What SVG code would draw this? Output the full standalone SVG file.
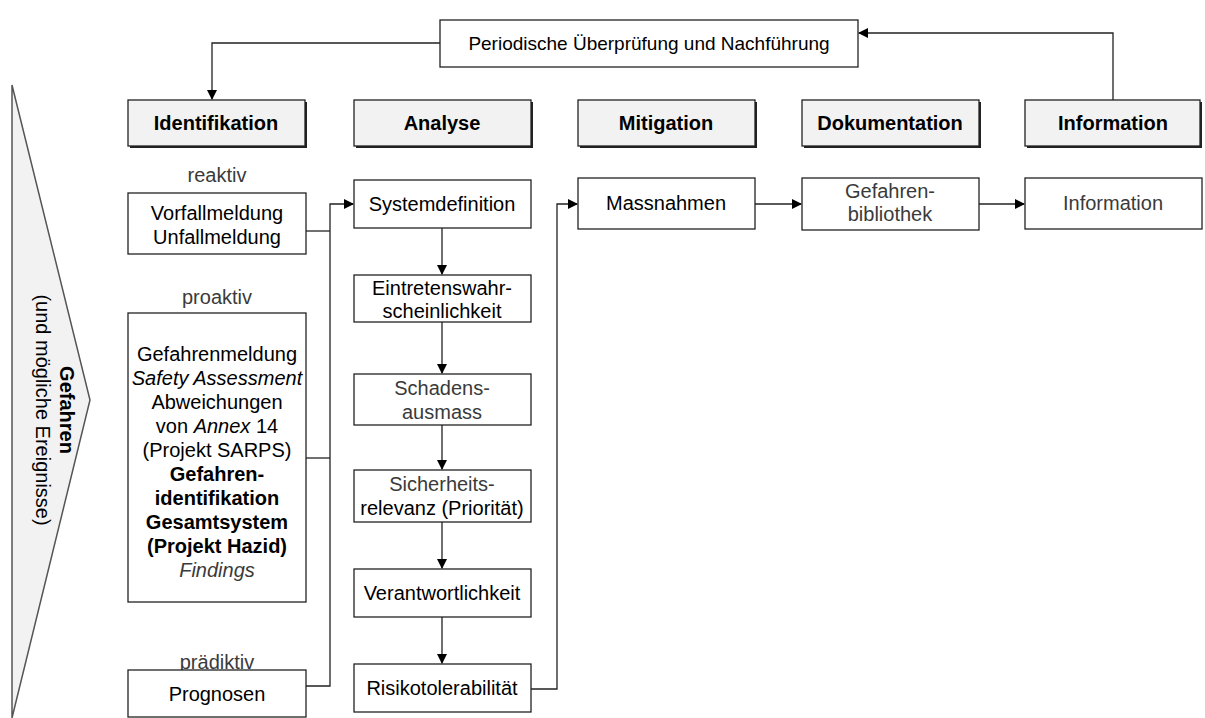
<svg xmlns="http://www.w3.org/2000/svg" width="1205" height="718" viewBox="0 0 1205 718">
<style>
text{font-family:"Liberation Sans",Arial,sans-serif;font-size:20px;fill:#000;text-anchor:middle}
.g{fill:#3a3a3a}
.b{font-weight:bold}
.i{font-style:italic}
.box{fill:#fff;stroke:#222;stroke-width:1.3}
.hdr{fill:#f2f2f2;stroke:#222;stroke-width:1.3}
.sh{fill:#222}
.ln{fill:none;stroke:#222;stroke-width:1.3}
</style>
<defs>
<marker id="ah" markerWidth="10" markerHeight="10" refX="9" refY="5" orient="auto" markerUnits="userSpaceOnUse">
<path d="M0,0 L10,5 L0,10 z" fill="#000"/>
</marker>
</defs>

<g id="triangle">
<path d="M12,85 L90,400 L12,718 Z" fill="#f2f2f2" stroke="#555" stroke-width="1.5"/>
<text transform="translate(52,410) rotate(90)"><tspan class="b" x="0" y="-8">Gefahren</tspan><tspan x="0" y="16">(und mögliche Ereignisse)</tspan></text>
</g>

<g id="top">
<rect class="box" x="440" y="20" width="418" height="47"/>
<text x="649" y="50" style="font-size:19px">Periodische Überprüfung und Nachführung</text>
</g>

<g id="h-identifikation">
<rect class="sh" x="130" y="102" width="177" height="46"/>
<rect class="hdr" x="128" y="100" width="177" height="46"/>
<text class="b" x="216" y="130">Identifikation</text>
</g>
<g id="h-analyse">
<rect class="sh" x="356" y="102" width="177" height="46"/>
<rect class="hdr" x="354" y="100" width="177" height="46"/>
<text class="b" x="442" y="130">Analyse</text>
</g>
<g id="h-mitigation">
<rect class="sh" x="580" y="102" width="177" height="46"/>
<rect class="hdr" x="578" y="100" width="177" height="46"/>
<text class="b" x="666" y="130">Mitigation</text>
</g>
<g id="h-dokumentation">
<rect class="sh" x="804" y="102" width="177" height="46"/>
<rect class="hdr" x="802" y="100" width="177" height="46"/>
<text class="b" x="890" y="130">Dokumentation</text>
</g>
<g id="h-information">
<rect class="sh" x="1027" y="102" width="175" height="46"/>
<rect class="hdr" x="1025" y="100" width="175" height="46"/>
<text class="b" x="1113" y="130">Information</text>
</g>

<g id="labels">
<text class="g" x="217" y="182">reaktiv</text>
<text class="g" x="217" y="304">proaktiv</text>
<text class="g" x="217" y="669">prädiktiv</text>
</g>

<g id="n-vorfall">
<rect class="box" x="128" y="193" width="178" height="61"/>
<text x="217" y="220">Vorfallmeldung</text>
<text x="217" y="244">Unfallmeldung</text>
</g>
<g id="n-proaktiv">
<rect class="box" x="128" y="313" width="178" height="289"/>
<text x="217" y="361">Gefahrenmeldung</text>
<text class="i" x="217" y="385">Safety Assessment</text>
<text x="217" y="409">Abweichungen</text>
<text x="217" y="433">von <tspan class="i">Annex</tspan> 14</text>
<text x="217" y="457">(Projekt SARPS)</text>
<text class="b" x="217" y="481">Gefahren-</text>
<text class="b" x="217" y="505">identifikation</text>
<text class="b" x="217" y="529">Gesamtsystem</text>
<text class="b" x="217" y="553">(Projekt Hazid)</text>
<text class="i g" x="217" y="577">Findings</text>
</g>
<g id="n-prognosen">
<rect class="box" x="128" y="670" width="178" height="47"/>
<text x="217" y="701">Prognosen</text>
</g>

<g id="n-systemdef">
<rect class="box" x="354" y="180" width="177" height="48"/>
<text x="442" y="211">Systemdefinition</text>
</g>
<g id="n-eintreten">
<rect class="box" x="354" y="275" width="177" height="47"/>
<text x="442" y="295">Eintretenswahr-</text>
<text x="442" y="318">scheinlichkeit</text>
</g>
<g id="n-schaden">
<rect class="box" x="354" y="374" width="177" height="51"/>
<text class="g" x="442" y="395">Schadens-</text>
<text class="g" x="442" y="419">ausmass</text>
</g>
<g id="n-sicherheit">
<rect class="box" x="354" y="470" width="177" height="52"/>
<text class="g" x="442" y="491">Sicherheits-</text>
<text x="442" y="515">relevanz (Priorität)</text>
</g>
<g id="n-verantwortlich">
<rect class="box" x="354" y="569" width="177" height="48"/>
<text x="442" y="600">Verantwortlichkeit</text>
</g>
<g id="n-risiko">
<rect class="box" x="354" y="664" width="177" height="48"/>
<text x="442" y="695">Risikotolerabilität</text>
</g>

<g id="n-massnahmen">
<rect class="box" x="578" y="178" width="177" height="51"/>
<text x="666" y="210">Massnahmen</text>
</g>
<g id="n-bibliothek">
<rect class="box" x="802" y="178" width="177" height="52"/>
<text class="g" x="890" y="198">Gefahren-</text>
<text class="g" x="890" y="221">bibliothek</text>
</g>
<g id="n-information">
<rect class="box" x="1025" y="178" width="177" height="51"/>
<text class="g" x="1113" y="210">Information</text>
</g>

<g id="connectors">
<path class="ln" d="M440,43 H212 V99" marker-end="url(#ah)"/>
<path class="ln" d="M1113,100 V33 H859" marker-end="url(#ah)"/>
<path class="ln" d="M306,231 H330"/>
<path class="ln" d="M306,458 H330"/>
<path class="ln" d="M306,686 H330 V204 H353" marker-end="url(#ah)"/>
<path class="ln" d="M442,228 V274" marker-end="url(#ah)"/>
<path class="ln" d="M442,322 V373" marker-end="url(#ah)"/>
<path class="ln" d="M442,425 V469" marker-end="url(#ah)"/>
<path class="ln" d="M442,522 V568" marker-end="url(#ah)"/>
<path class="ln" d="M442,617 V663" marker-end="url(#ah)"/>
<path class="ln" d="M531,689 H557 V204 H577" marker-end="url(#ah)"/>
<path class="ln" d="M755,204 H801" marker-end="url(#ah)"/>
<path class="ln" d="M979,204 H1024" marker-end="url(#ah)"/>
</g>
</svg>
